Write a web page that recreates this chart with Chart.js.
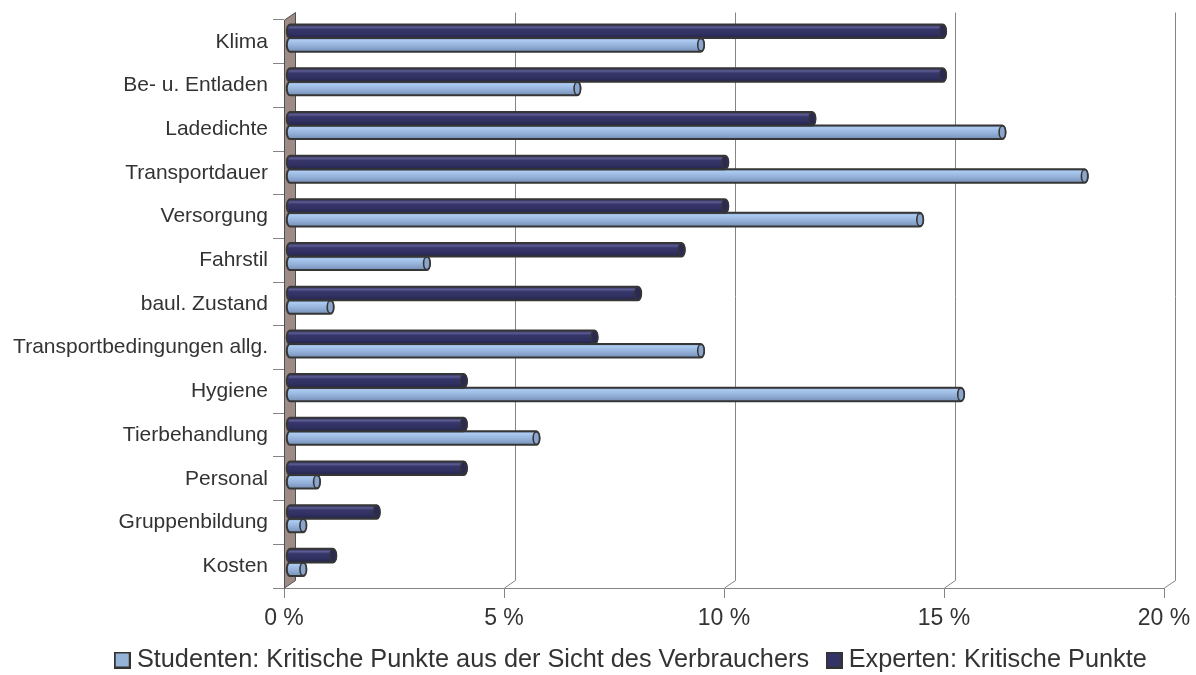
<!DOCTYPE html>
<html>
<head>
<meta charset="utf-8">
<style>
  html, body { margin: 0; padding: 0; background: #ffffff; }
  #wrap { width: 1196px; height: 675px; }
</style>
<script src="https://cdn.jsdelivr.net/npm/chart.js@4.4.1/dist/chart.umd.min.js"></script>
</head>
<body>
<div id="wrap"><canvas id="chart" width="1196" height="675"></canvas></div>
<script>
// Kritische Punkte beim Tiertransport (Anteile in %)
const categories = [
  'Klima', 'Be- u. Entladen', 'Ladedichte', 'Transportdauer', 'Versorgung',
  'Fahrstil', 'baul. Zustand', 'Transportbedingungen allg.', 'Hygiene',
  'Tierbehandlung', 'Personal', 'Gruppenbildung', 'Kosten'
];
const studenten = [9.35, 6.54, 16.20, 18.07, 14.33, 3.12, 0.93, 9.35, 15.26, 5.61, 0.62, 0.31, 0.31];
const experten  = [14.85, 14.85, 11.88, 9.90, 9.90, 8.91, 7.92, 6.93, 3.96, 3.96, 3.96, 1.98, 0.99];
const percentTicks = [0, 5, 10, 15, 20];
const seriesStudenten = 'Studenten: Kritische Punkte aus der Sicht des Verbrauchers';
const seriesExperten = 'Experten: Kritische Punkte';

// depth of the pseudo-3D plot box (back wall offset)
const DX = 11, DY = -7.5;
const FONT = '"Liberation Sans", Arial, Helvetica, sans-serif';
const INK = '#333333';
const GRID = '#858585';
const LEGEND_TOP = 624.35;

const tubeStyles = {
  light: {
    stops: [[0, '#7c97be'], [0.16, '#adcaf0'], [0.38, '#9fbde4'], [0.62, '#91add5'], [1, '#7690b7']],
    face: '#8ba6cd', swatch: '#95b3d7'
  },
  dark: {
    stops: [[0, '#2c2c5a'], [0.2, '#5c5c92'], [0.36, '#36366b'], [0.75, '#2f2f5f'], [1, '#23234a']],
    face: '#2a2a55', swatch: '#333366'
  }
};

function makeSwatch(color) {
  const c = document.createElement('canvas');
  c.width = 17; c.height = 17;
  const g = c.getContext('2d');
  g.fillStyle = color;
  g.fillRect(1, 1, 15, 15);
  g.lineWidth = 2;
  g.strokeStyle = INK;
  g.strokeRect(1, 1, 15, 15);
  return c;
}

function drawTube(ctx, bar, style) {
  const p = bar.getProps(['x', 'y', 'base', 'height'], true);
  const h = p.height;
  const x0 = p.base + DX / 2;
  const x1 = p.x + DX / 2;
  const cy = p.y + DY / 2;
  const top = cy - h / 2, bot = cy + h / 2;
  const rx = 3.2;
  const grad = ctx.createLinearGradient(0, top, 0, bot);
  style.stops.forEach(s => grad.addColorStop(s[0], s[1]));
  ctx.save();
  ctx.beginPath();
  ctx.moveTo(x0, top);
  ctx.lineTo(x1, top);
  ctx.ellipse(x1, cy, rx, h / 2, 0, -Math.PI / 2, Math.PI / 2, false);
  ctx.lineTo(x0, bot);
  ctx.ellipse(x0, cy, rx, h / 2, 0, Math.PI / 2, Math.PI * 1.5, false);
  ctx.closePath();
  ctx.fillStyle = grad;
  ctx.fill();
  ctx.lineWidth = 2;
  ctx.strokeStyle = '#363636';
  ctx.stroke();
  // end face of the tube
  ctx.beginPath();
  ctx.ellipse(x1, cy, rx, h / 2 - 0.5, 0, 0, Math.PI * 2);
  ctx.fillStyle = style.face;
  ctx.fill();
  ctx.lineWidth = 1.6;
  ctx.stroke();
  ctx.restore();
}

const depthPlugin = {
  id: 'depthBox',
  afterLayout(chart) {
    // legend row: a little right of the canvas centre, tucked under the axis labels
    const lg = chart.legend;
    if (lg) {
      lg.left = 71; lg.right = 1196; lg.width = lg.right - lg.left;
      lg.top = LEGEND_TOP; lg.bottom = lg.top + lg.height;
    }
  },
  beforeDatasetsDraw(chart) {
    const { ctx, chartArea: a, scales: { x } } = chart;
    ctx.save();
    ctx.lineWidth = 1;
    ctx.strokeStyle = GRID;
    percentTicks.forEach(v => {
      if (v === 0) return;
      const px = Math.round(x.getPixelForValue(v)) + 0.5;
      ctx.beginPath();
      ctx.moveTo(px, a.bottom);
      ctx.lineTo(px + DX, a.bottom + DY);
      ctx.lineTo(px + DX, a.top + DY);
      ctx.stroke();
    });
    // side wall at 0 %
    const w0 = Math.round(x.getPixelForValue(0)) + 0.5;
    ctx.beginPath();
    ctx.moveTo(w0, a.bottom);
    ctx.lineTo(w0, a.top);
    ctx.lineTo(w0 + DX, a.top + DY);
    ctx.lineTo(w0 + DX, a.bottom + DY);
    ctx.closePath();
    ctx.fillStyle = '#9f8b85';
    ctx.fill();
    ctx.strokeStyle = '#505050';
    ctx.stroke();
    ctx.restore();
  },
  beforeDatasetDraw(chart, args) {
    const ds = chart.data.datasets[args.index];
    const style = tubeStyles[ds.tube];
    args.meta.data.forEach(bar => drawTube(chart.ctx, bar, style));
    return false;
  }
};

Chart.defaults.font.family = FONT;
Chart.defaults.color = INK;

const swatches = [makeSwatch(tubeStyles.dark.swatch), makeSwatch(tubeStyles.light.swatch)];

new Chart(document.getElementById('chart'), {
  type: 'bar',
  data: {
    labels: categories,
    datasets: [
      { label: seriesExperten, data: experten, tube: 'dark', backgroundColor: tubeStyles.dark.swatch,
        categoryPercentage: 0.62, barPercentage: 1.0 },
      { label: seriesStudenten, data: studenten, tube: 'light', backgroundColor: tubeStyles.light.swatch,
        categoryPercentage: 0.62, barPercentage: 1.0 }
    ]
  },
  options: {
    indexAxis: 'y',
    responsive: false,
    devicePixelRatio: 1,
    animation: false,
    layout: { padding: { top: 20, right: 32, bottom: -21.3, left: 0 } },
    scales: {
      x: {
        type: 'linear', min: 0, max: 20, position: 'bottom',
        afterBuildTicks(scale) { scale.ticks = percentTicks.map(v => ({ value: v })); },
        ticks: { callback: v => v + ' %', font: { size: 23, lineHeight: 1.83 }, color: INK, padding: 0, maxRotation: 0, autoSkip: false },
        grid: { drawOnChartArea: false, drawTicks: true, tickLength: 10, color: GRID },
        border: { display: true, color: GRID },
        afterFit(scale) { scale.height = 50; }
      },
      y: {
        type: 'category', offset: true,
        ticks: { font: { size: 21 }, color: INK, padding: 5, autoSkip: false },
        grid: { drawOnChartArea: false, offset: true, tickLength: 11, color: GRID },
        border: { display: false },
        afterFit(scale) { scale.width = 284; }
      }
    },
    plugins: {
      tooltip: { enabled: false },
      legend: {
        position: 'bottom',
        reverse: true,
        labels: {
          usePointStyle: true,
          pointStyleWidth: 4,
          padding: 23,
          color: INK,
          font: { size: 25.3 },
          generateLabels(chart) {
            return chart.data.datasets.map((ds, i) => ({
              text: ds.label,
              pointStyle: swatches[i],
              datasetIndex: i,
              hidden: !chart.isDatasetVisible(i),
              fillStyle: ds.backgroundColor,
              strokeStyle: INK,
              lineWidth: 0,
              fontColor: INK
            }));
          }
        }
      }
    }
  },
  plugins: [depthPlugin]
});
</script>
</body>
</html>
